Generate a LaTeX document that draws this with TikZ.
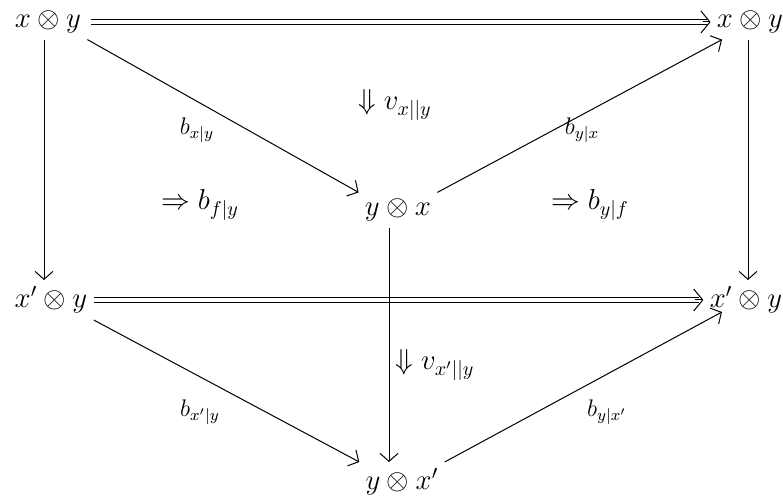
\documentclass[tikz,border=0pt]{standalone}
\usetikzlibrary{arrows.meta}
\begin{document}
\begin{tikzpicture}[x=0.5pt,y=-0.5pt,
  obj/.style={font=\fontsize{14}{17}\selectfont, inner sep=3pt},
  lbl/.style={font=\fontsize{14}{17}\selectfont, inner sep=1pt},
  slbl/.style={font=\fontsize{12}{14}\selectfont, inner sep=1pt},
  arr/.style={line width=0.5pt, -{Straight Barb[length=4pt,width=9pt,line width=0.5pt]}},
  dline/.style={line width=0.5pt},
  dtip/.style={line width=0.5pt, -{Straight Barb[length=4.5pt,width=11pt,line width=0.5pt]}}]
\useasboundingbox (0,0) rectangle (783,501);
\node[obj] (tl) at (48,22) {$x\otimes y$};
\node[obj] (tr) at (750,22) {$x\otimes y$};
\node[obj] (ml) at (51,300) {$x'\otimes y$};
\node[obj] (mr) at (746,300) {$x'\otimes y$};
\node[obj] (c) at (398,210) {$y\otimes x$};
\node[obj] (b) at (402,482) {$y\otimes x'$};
% double edges
\draw[dline] ([yshift=1.2pt,xshift=2pt]tl.east) -- ([yshift=1.2pt,xshift=-2pt]tr.west);
\draw[dline] ([yshift=-1.2pt,xshift=2pt]tl.east) -- ([yshift=-1.2pt,xshift=-2pt]tr.west);
\draw[dtip] ([xshift=-4pt]tr.west) -- (tr.west);
\draw[dline] ([yshift=1.2pt]ml.east) -- ([yshift=1.2pt,xshift=-2pt]mr.west);
\draw[dline] ([yshift=-1.2pt]ml.east) -- ([yshift=-1.2pt,xshift=-2pt]mr.west);
\draw[dtip] ([xshift=-4pt]mr.west) -- (mr.west);
% edges
\draw[arr] ([xshift=-2pt]tl.south) -- ([xshift=-2pt]tl.south |- ml.north);
\draw[arr] ([xshift=-1pt]tr.south) -- ([xshift=-1pt]tr.south |- mr.north);
\draw[arr] ([xshift=-4.5pt]c.south) -- ([xshift=-4.5pt]c.south |- b.north);
\draw[arr] (tl.south east) -- (c.north west);
\draw[arr] (c.north east) -- ([xshift=-14pt]tr.south);
\draw[arr] (ml.south east) -- (b.north west);
\draw[arr] (b.north east) -- ([xshift=-12pt,yshift=4pt]mr.south);
% labels
\node[lbl] (v1) at (395,105) {$\Downarrow v_{x||y}$};
\node[slbl] (l1) at (197,130) {$b_{x|y}$};
\node[slbl] (l2) at (582,130) {$b_{y|x}$};
\node[lbl] (l3) at (200,205) {$\Rightarrow b_{f|y}$};
\node[lbl] (l4) at (590,205) {$\Rightarrow b_{y|f}$};
\node[lbl] (v2) at (435,365) {$\Downarrow v_{x'||y}$};
\node[slbl] (l5) at (200,412) {$b_{x'|y}$};
\node[slbl] (l6) at (607,412) {$b_{y|x'}$};
\end{tikzpicture}
\end{document}
